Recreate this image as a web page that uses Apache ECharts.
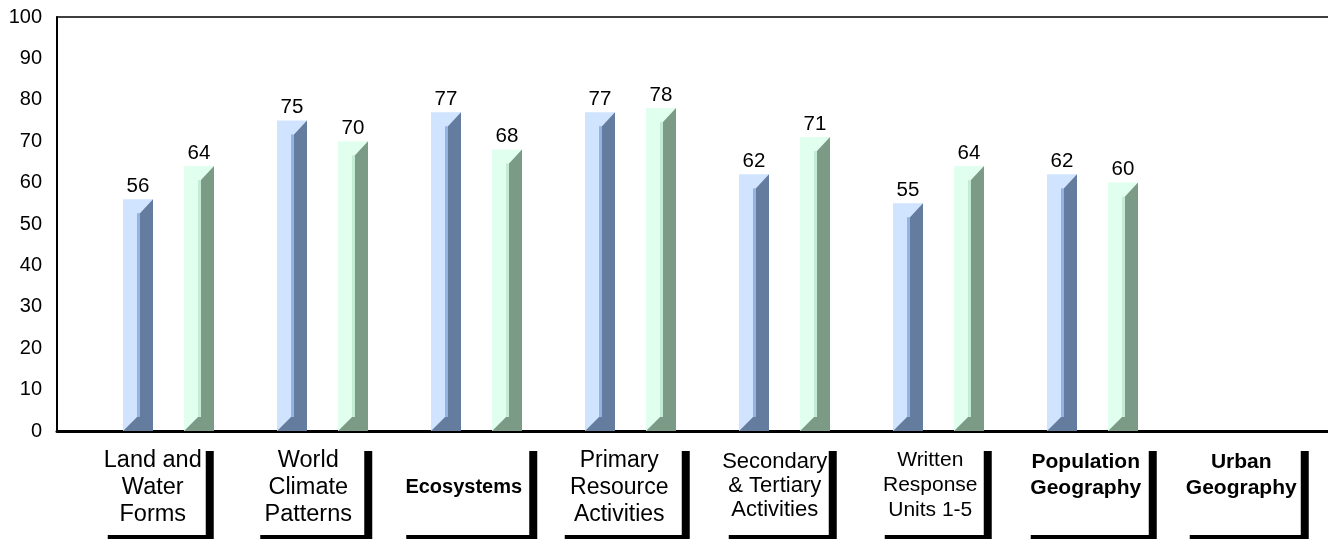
<!DOCTYPE html>
<html>
<head>
<meta charset="utf-8">
<script src="https://cdn.jsdelivr.net/npm/echarts@6/dist/echarts.min.js"></script>
<style>
html,body{margin:0;padding:0;background:#fff;}
#chart{width:1328px;height:539px;}
</style>
</head>
<body>
<div id="chart"></div>
<script>
const categories = ['Land and\nWater\nForms', 'World\nClimate\nPatterns', 'Ecosystems', 'Primary\nResource\nActivities', 'Secondary\n& Tertiary\nActivities', 'Written\nResponse\nUnits 1-5', 'Population\nGeography', 'Urban\nGeography'];
const seriesA = [56, 75, 77, 77, 62, 55, 62, null];
const seriesB = [64, 70, 68, 78, 71, 64, 60, null];
const yTicks = [0, 10, 20, 30, 40, 50, 60, 70, 80, 90, 100];

const FONT = 'Arial, "Liberation Sans", sans-serif';
// per-label box styling (width, font, line height, padding top, bold)
const labelStyles = [
  {w: 106, fs: 23.5, lh: 27, pt: 0, bold: false},
  {w: 112, fs: 23.5, lh: 27, pt: 0, bold: false},
  {w: 131, fs: 20, lh: 26, pt: 27, bold: true},
  {w: 125, fs: 23, lh: 27, pt: 0, bold: false},
  {w: 108, fs: 22, lh: 24, pt: 3, bold: false},
  {w: 107, fs: 21, lh: 25, pt: 1, bold: false},
  {w: 126, fs: 21, lh: 26, pt: 2, bold: true},
  {w: 119, fs: 21, lh: 26, pt: 2, bold: true}
];
const BOX_H = 88;

const labelData = categories.map((c, i) => {
  const s = labelStyles[i];
  const lines = c.split('\n').length;
  const pb = Math.max(0, BOX_H - s.pt - lines * s.lh);
  return {
    value: c,
    textStyle: {
      width: s.w,
      fontSize: s.fs,
      lineHeight: s.lh,
      fontWeight: s.bold ? 'bold' : 'normal',
      padding: [s.pt, 0, pb, 0],
      align: 'center'
    }
  };
});

const palettes = [
  {light: '#D0E3FF', mid: '#93B3E6', dark: '#647C9E', off: -30},
  {light: '#E0FFEE', mid: '#C4EBD3', dark: '#7B9B86', off: 31}
];

function makeRender(p) {
  return function (params, api) {
    const idx = api.value(0);
    const v = api.value(1);
    const c = api.coord([idx, v]);
    const b = api.coord([idx, 0]);
    const L = c[0] + p.off;
    const top = c[1];
    const base = b[1];
    const W = 30, D = 14;
    return {
      type: 'group',
      children: [
        {type: 'rect', shape: {x: L, y: top, width: W, height: base - top}, style: {fill: p.light}},
        {type: 'rect', shape: {x: L + D, y: top + D, width: 3, height: Math.max(0, base - top - 2 * D)}, style: {fill: p.mid}},
        {type: 'polygon', shape: {points: [[L, base], [L + D, base - D], [L + D + 3, base - D], [L + D + 3, top + D], [L + W, top], [L + W, base]]}, style: {fill: p.dark}},
        {type: 'text', style: {text: String(v), x: L + 15, y: top - 13, align: 'center', verticalAlign: 'middle', fontSize: 20.5, fontFamily: FONT, fill: '#000'}}
      ]
    };
  };
}

function toData(arr) {
  const out = [];
  arr.forEach((v, i) => { if (v !== null && v !== undefined) out.push([i, v]); });
  return out;
}

const chart = echarts.init(document.getElementById('chart'), null, {renderer: 'canvas'});
chart.setOption({
  animation: false,
  backgroundColor: '#fff',
  textStyle: {fontFamily: FONT},
  grid: [
    {left: 57, right: 0, top: 17, bottom: 108},
    {left: 76, right: 20, top: 17, bottom: 108},
    {left: 75, right: 9, top: 17, bottom: 108}
  ],
  xAxis: [
    {gridIndex: 0, type: 'category', data: categories, axisLabel: {show: false}, axisTick: {show: false}, axisLine: {show: true, lineStyle: {color: '#000', width: 3}}},
    {gridIndex: 1, type: 'category', data: categories, show: false},
    {gridIndex: 2, type: 'category', data: labelData, axisLine: {show: false}, axisTick: {show: false},
      axisLabel: {interval: 0, margin: 16, color: '#000', fontFamily: FONT, backgroundColor: '#fff',
        shadowColor: '#000', shadowBlur: 0, shadowOffsetX: 8, shadowOffsetY: 4}},
    {gridIndex: 0, type: 'category', position: 'top', data: categories, axisLabel: {show: false}, axisTick: {show: false}, axisLine: {show: true, lineStyle: {color: '#000', width: 1.5}}}
  ],
  yAxis: [
    {gridIndex: 0, type: 'value', min: 0, max: 100, interval: 10,
      axisLine: {show: true, lineStyle: {color: '#000', width: 2}}, axisTick: {show: false}, splitLine: {show: false},
      axisLabel: {margin: 15, fontSize: 20, color: '#000', fontFamily: FONT, formatter: v => yTicks.includes(v) ? String(v) : ''}},
    {gridIndex: 1, type: 'value', min: 0, max: 100, interval: 10, show: false},
    {gridIndex: 2, type: 'value', min: 0, max: 100, interval: 10, show: false}
  ],
  series: [
    {type: 'custom', xAxisIndex: 1, yAxisIndex: 1, renderItem: makeRender(palettes[0]), data: toData(seriesA), z: 3},
    {type: 'custom', xAxisIndex: 1, yAxisIndex: 1, renderItem: makeRender(palettes[1]), data: toData(seriesB), z: 3}
  ]
});
</script>
</body>
</html>
